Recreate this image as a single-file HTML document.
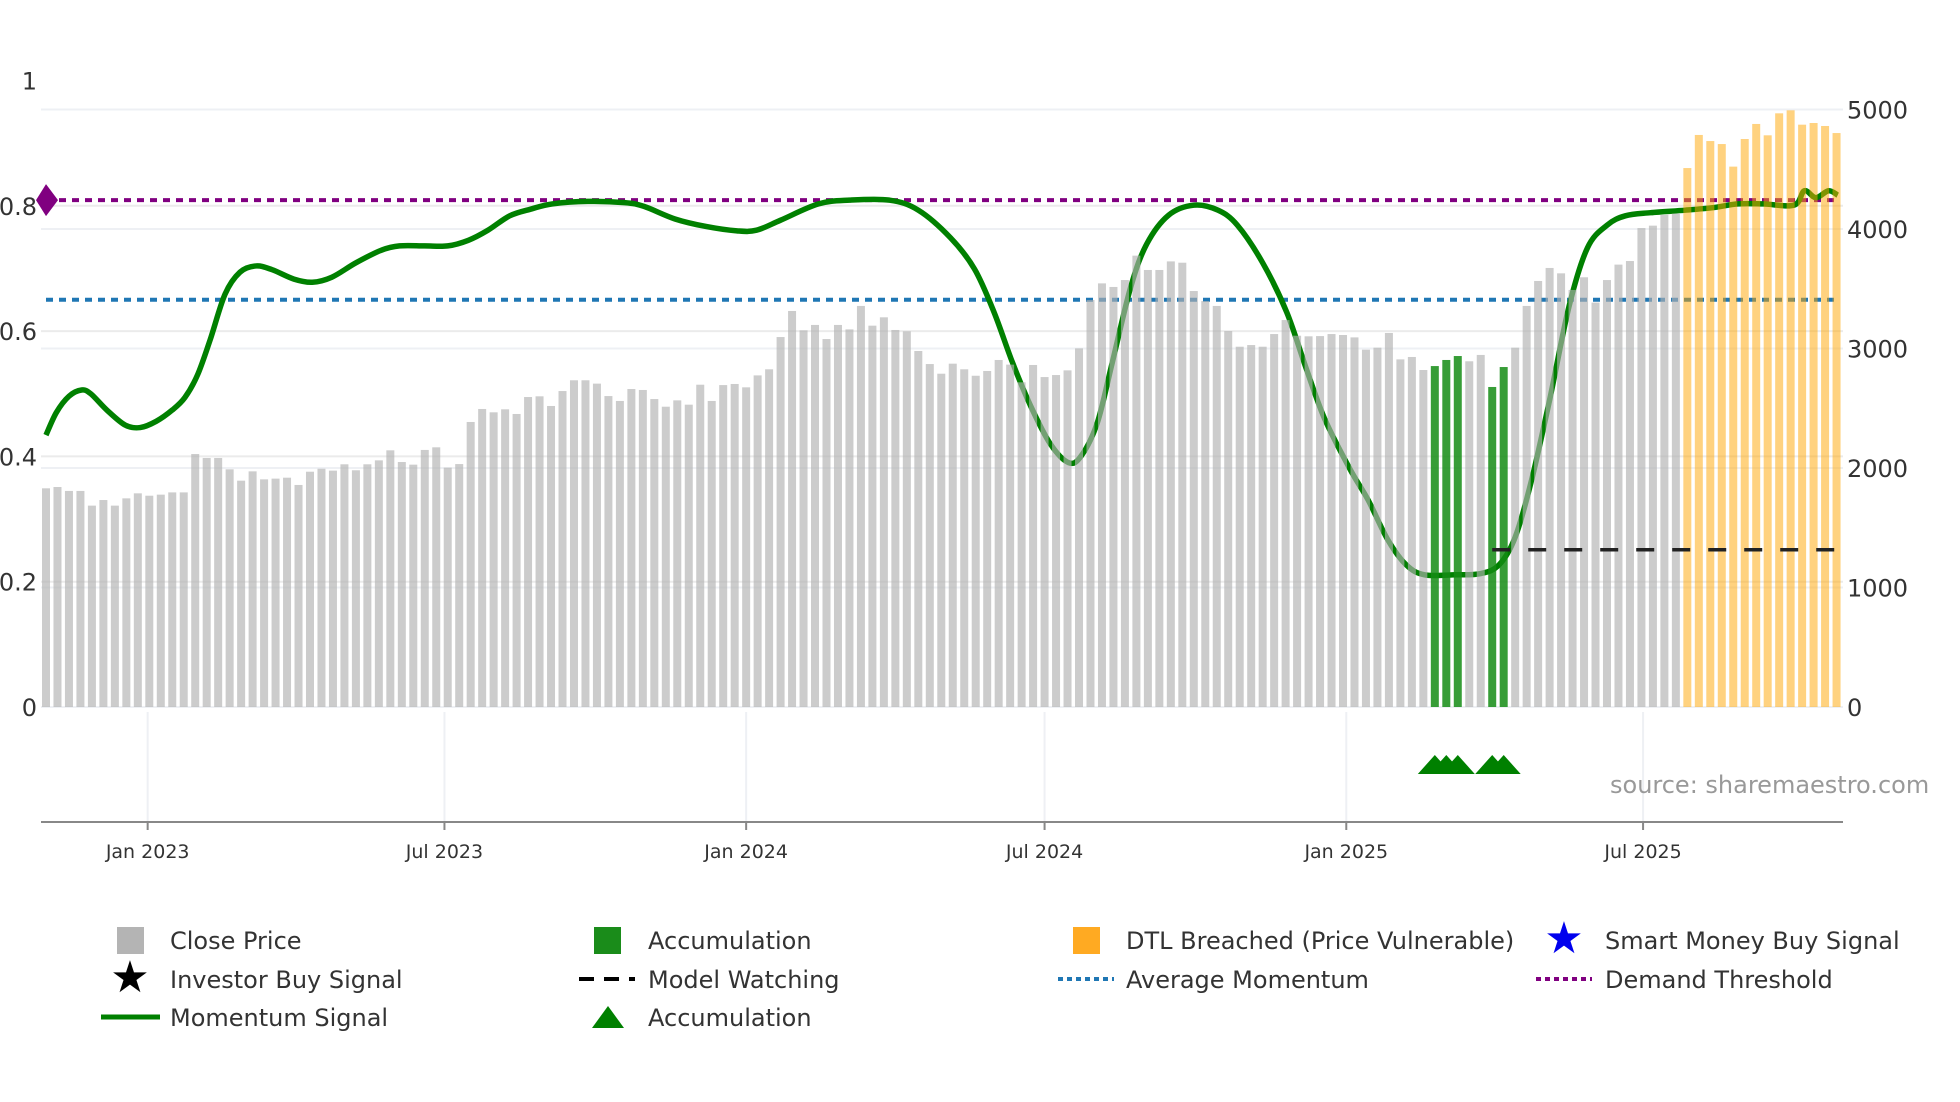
<!DOCTYPE html>
<html><head><meta charset="utf-8"><style>
html,body{margin:0;padding:0;background:#fff;}
svg{display:block;font-family:"DejaVu Sans","Liberation Sans",sans-serif;}
</style></head><body>
<svg id="chart" width="1960" height="1102" viewBox="0 0 1960 1102" xmlns="http://www.w3.org/2000/svg">
<g id="grid"></g>
<g id="lines"></g>
<g id="momentum"></g>
<g id="bars"></g>
<g id="overlay"></g>
<g id="axes"></g>
<text x="1610" y="793" font-size="24" fill="#999">source: sharemaestro.com</text>
<g id="legend" font-size="24" fill="#333">
  <rect x="117" y="927" width="27" height="27" fill="#b4b4b4"/>
  <text x="170" y="949">Close Price</text>
  <rect x="594" y="927" width="27" height="27" fill="#1a8c1a"/>
  <text x="648" y="949">Accumulation</text>
  <rect x="1073" y="927" width="27" height="27" fill="#ffaa22"/>
  <text x="1126" y="949">DTL Breached (Price Vulnerable)</text>
  <text x="1564" y="953" font-size="44" fill="#0000ee" text-anchor="middle">★</text>
  <text x="1605" y="949">Smart Money Buy Signal</text>
  <text x="130" y="992" font-size="44" fill="#000" text-anchor="middle">★</text>
  <text x="170" y="988">Investor Buy Signal</text>
  <line x1="579" y1="979" x2="635" y2="979" stroke="#000" stroke-width="4" stroke-dasharray="15 10"/>
  <text x="648" y="988">Model Watching</text>
  <line x1="1058" y1="979" x2="1114" y2="979" stroke="#1f77b4" stroke-width="4" stroke-dasharray="5 4"/>
  <text x="1126" y="988">Average Momentum</text>
  <line x1="1536" y1="979" x2="1592" y2="979" stroke="#800080" stroke-width="4" stroke-dasharray="5 4"/>
  <text x="1605" y="988">Demand Threshold</text>
  <line x1="101" y1="1017" x2="160" y2="1017" stroke="#008000" stroke-width="5"/>
  <text x="170" y="1026">Momentum Signal</text>
  <polygon points="592,1028 608,1006 624,1028" fill="#008000"/>
  <text x="648" y="1026">Accumulation</text>
</g>
</svg>
<script>
const closePrices = [1830,1841,1808,1808,1685,1732,1685,1746,1788,1768,1777,1796,1796,2117,2084,2084,1989,1894,1972,1905,1911,1919,1858,1969,1994,1978,2031,1981,2031,2064,2148,2050,2028,2151,2173,2003,2033,2385,2494,2466,2491,
2452,2594,2600,2519,2644,2734,2734,2706,2602,2561,2661,2653,2577,2513,2566,2530,2697,2561,2694,2703,2675,2775,2826,3096,3314,3152,3197,3079,3197,3160,3356,3191,3261,3155,3144,2979,2870,2789,2873,2826,
2772,2812,2904,2865,2717,2862,2761,2778,2817,3001,3406,3545,3515,3573,3777,3657,3657,3729,3718,3481,3397,3356,3146,3015,3029,3015,3121,3238,3107,3102,3104,3121,3113,3093,2990,3007,3130,2909,2929,2820,
2853,2904,2937,2893,2946,2678,2845,3007,3356,3565,3674,3629,3490,3596,3384,3573,3702,3732,4008,4028,4117,4128,4510,4787,4736,4711,4522,4753,4879,4784,4968,4993,4873,4887,4862,4803];
const accumIdx = [121,122,123,126,127];
const dtlStartIdx = 143;
const momIdx = [0,0.9,2,3.1,3.9,5.3,6.9,8.2,9.6,11,12.1,13.2,14.3,15.6,16.9,18.3,19.7,21.6,23.2,24.9,27,29.2,30.8,33,35,36.8,38.5,40.4,42.3,44.1,47.2,50.4,52.1,54.8,57.5,60.2,61.9,64,67.3,70,73.5,76,78.8,80.9,82.6,84.2,85.8,87.5,89.1,90.2,91.6,92.9,94.5,95.9,97.8,100,102.1,103.8,106,108.1,109.8,111.4,113.6,115.2,116.9,118.5,120.1,122.8,125,126.6,128,129.4,131,132.7,134.3,136,137.6,139.8,142.8,145.2,147.4,149.6,152.3,153.2,154.2,155.3,156.1];
const momVal = [0.434,0.47,0.496,0.506,0.5,0.474,0.45,0.446,0.456,0.474,0.494,0.53,0.586,0.659,0.694,0.704,0.698,0.683,0.678,0.686,0.709,0.729,0.736,0.736,0.736,0.745,0.761,0.784,0.795,0.803,0.807,0.805,0.799,0.779,0.767,0.76,0.761,0.777,0.803,0.809,0.809,0.793,0.749,0.699,0.63,0.55,0.48,0.42,0.39,0.401,0.454,0.55,0.67,0.739,0.785,0.801,0.793,0.769,0.709,0.63,0.54,0.46,0.38,0.33,0.267,0.227,0.211,0.211,0.213,0.227,0.271,0.36,0.49,0.64,0.733,0.769,0.784,0.789,0.793,0.797,0.803,0.803,0.801,0.824,0.813,0.824,0.817];
const demandThreshold = 0.809;
const avgMomentum = 0.65;
const modelWatchLevel = 0.251;
const modelWatchStart = 126;
const leftTicks = [0,0.2,0.4,0.6,0.8,1];
const leftTickLabels = ["0","0.2","0.4","0.6","0.8","1"];
const rightTicks = [0,1000,2000,3000,4000,5000];
const xTickDays = [62,243,427,609,793,974];
const xTickLabels = ["Jan 2023","Jul 2023","Jan 2024","Jul 2024","Jan 2025","Jul 2025"];

const NS="http://www.w3.org/2000/svg";
const X0=41, X1=1843, Y0=707;
function xDay(d){return 46 + d*1.6397;}
function xIdx(i){return xDay(i*7);}
function yL(v){return Y0 - v*626.5;}
function yR(v){return Y0 - v*0.1195;}
function mk(tag,attrs,parent){const e=document.createElementNS(NS,tag);for(const k in attrs)e.setAttribute(k,attrs[k]);parent.appendChild(e);return e;}

const grid=document.getElementById('grid');
leftTicks.forEach((t,i)=>{
  if(t>=1) return;
  const l=mk('line',{x1:X0,x2:X1,y1:yL(t),y2:yL(t),stroke:'#ebebeb','stroke-width':2},grid);
  
  
});
rightTicks.forEach(t=>{
  const l=mk('line',{x1:X0,x2:X1,y1:yR(t),y2:yR(t),stroke:'#eef0f4','stroke-width':2},grid);
  
  
});
xTickDays.forEach(d=>{
  const l=mk('line',{x1:xDay(d),x2:xDay(d),y1:712,y2:822,stroke:'#eef0f4','stroke-width':2},grid);
  
  
});

const lines=document.getElementById('lines');
const dl=mk('line',{x1:46,x2:1839,y1:yL(demandThreshold),y2:yL(demandThreshold),stroke:'#800080','stroke-width':4,'stroke-dasharray':'7 6'},lines);


const al=mk('line',{x1:46,x2:1839,y1:yL(avgMomentum),y2:yL(avgMomentum),stroke:'#1f77b4','stroke-width':4,'stroke-dasharray':'7 6'},lines);


const dm=mk('polygon',{points:`46,${yL(demandThreshold)-16} 58,${yL(demandThreshold)} 46,${yL(demandThreshold)+16} 36,${yL(demandThreshold)}`,fill:'#800080'},lines);



const pts=momIdx.map((i,k)=>[xIdx(i),yL(momVal[k])]);
let d=`M${pts[0][0]},${pts[0][1]}`;
for(let k=0;k<pts.length-1;k++){
  const p0=pts[k-1]||pts[k],p1=pts[k],p2=pts[k+1],p3=pts[k+2]||p2;
  const c1=[p1[0]+(p2[0]-p0[0])/6,p1[1]+(p2[1]-p0[1])/6];
  const c2=[p2[0]-(p3[0]-p1[0])/6,p2[1]-(p3[1]-p1[1])/6];
  d+=` C${c1[0]},${c1[1]} ${c2[0]},${c2[1]} ${p2[0]},${p2[1]}`;
}
const mp=mk('path',{d:d,fill:'none',stroke:'#008000','stroke-width':5.5,'stroke-linejoin':'round'},document.getElementById('momentum'));



const bars=document.getElementById('bars');
closePrices.forEach((v,i)=>{
  let fill='#b0b0b0',op=0.65,name='close-price-bar';
  if(accumIdx.includes(i)){fill='#148c14';op=0.85;name='accumulation-bar';}
  else if(i>=dtlStartIdx){fill='#ffa500';op=0.5;name='dtl-breached-bar';}
  const r=mk('rect',{x:xIdx(i)-4,y:yR(v),width:8,height:Y0-yR(v),fill:fill,'fill-opacity':op},bars);
  
  
});

const ov=document.getElementById('overlay');
const mw=mk('line',{x1:xIdx(modelWatchStart),x2:xIdx(156),y1:yL(modelWatchLevel),y2:yL(modelWatchLevel),stroke:'#222','stroke-width':3.5,'stroke-dasharray':'18 18'},ov);


accumIdx.forEach(i=>{
  const x=xIdx(i);
  const t=mk('polygon',{points:`${x-17},774 ${x},755 ${x+17},774`,fill:'#008000'},ov);
  
  
});

const ax=document.getElementById('axes');
const base=mk('line',{x1:X0,x2:X1,y1:822,y2:822,stroke:'#888','stroke-width':2},ax);


leftTicks.forEach((t,k)=>{
  const tx=mk('text',{x:37,y:yL(t)+9,'text-anchor':'end','font-size':24,fill:'#333'},ax);
  tx.textContent=leftTickLabels[k];
  
  
});
rightTicks.forEach(t=>{
  const tx=mk('text',{x:1847,y:yR(t)+9,'font-size':24,fill:'#333'},ax);
  tx.textContent=String(t);
  
  
});
xTickDays.forEach((dd,k)=>{
  const x=xDay(dd);
  const tk=mk('line',{x1:x,x2:x,y1:822,y2:830,stroke:'#888','stroke-width':2},ax);
  
  
  const tx=mk('text',{x:x,y:858,'text-anchor':'middle','font-size':19,fill:'#333'},ax);
  tx.textContent=xTickLabels[k];
  
  
});
</script>
</body></html>
